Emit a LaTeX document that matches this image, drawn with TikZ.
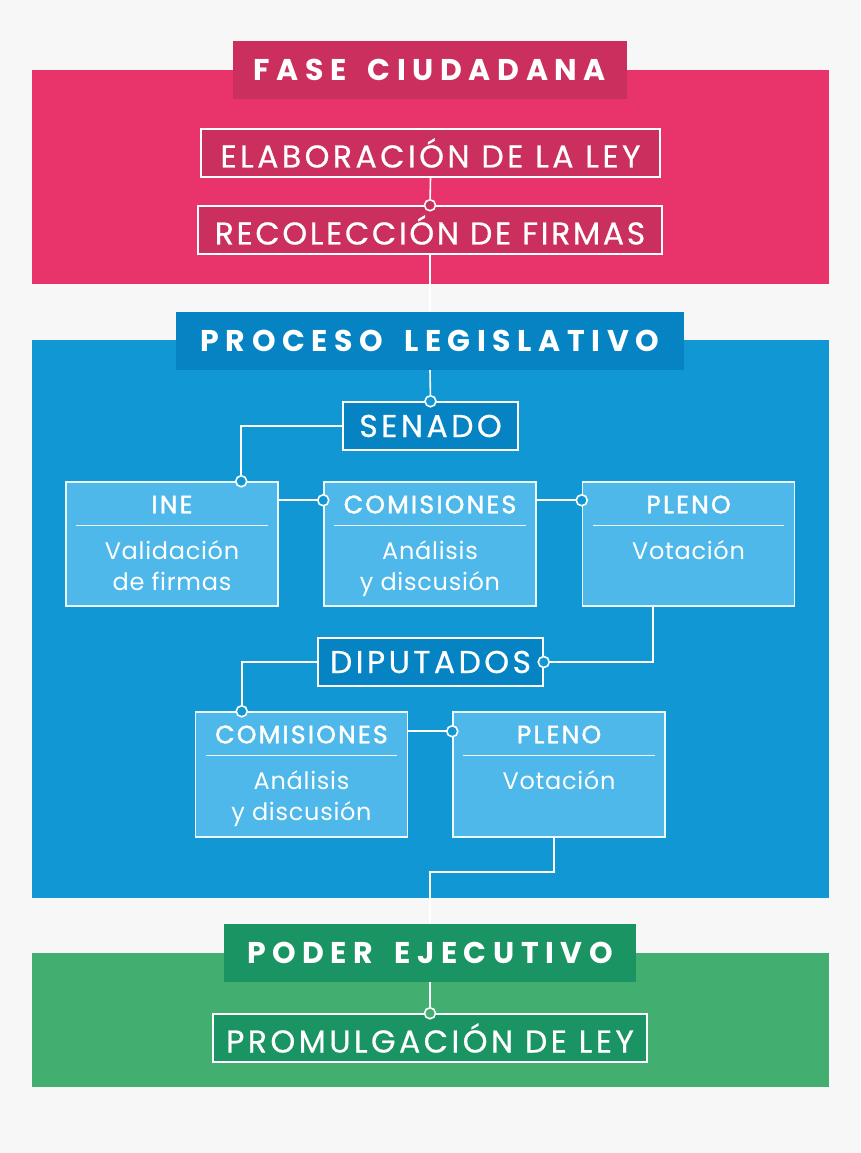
\documentclass[tikz,border=0pt]{standalone}
\usepackage{fontspec}
\setmainfont{Poppins}
\definecolor{bgc}{HTML}{F7F7F7}
\definecolor{pinkband}{HTML}{E8336B}
\definecolor{pinkdark}{HTML}{CB2F5D}
\definecolor{blueband}{HTML}{1297D5}
\definecolor{bluedark}{HTML}{0583C3}
\definecolor{bluelight}{HTML}{4FB8EA}
\definecolor{greenband}{HTML}{42AE6F}
\definecolor{greendark}{HTML}{1A9462}
\newcommand\headfont{\fontsize{30}{34}\selectfont\bfseries\addfontfeature{LetterSpace=22}}
\newcommand\wsp{\hspace{8pt}}
\newcommand\boxfont{\fontsize{31.5}{36}\selectfont\addfontfeature{LetterSpace=11,FakeBold=0.6}}
\newcommand\cardtitlefont{\fontsize{25}{30}\selectfont\addfontfeature{LetterSpace=9,FakeBold=1.8}}
\newcommand\cardbodyfont{\fontsize{24}{31}\selectfont\addfontfeature{LetterSpace=3}}
\begin{document}
\begin{tikzpicture}[x=1pt,y=-1pt,
  header/.style={inner sep=0pt, minimum height=58pt, text=white, font=\headfont},
  stagebox/.style={draw=white, line width=1.5pt, inner sep=0pt, minimum height=48pt, text=white, font=\boxfont},
  card/.style={draw=white!90!bluelight, line width=1.5pt, fill=bluelight, inner sep=0pt, minimum width=212pt, minimum height=124pt},
  cardtitle/.style={text=white, font=\cardtitlefont, inner sep=0pt, anchor=base},
  cardbody/.style={text=white, font=\cardbodyfont, inner sep=0pt, anchor=base},
  sepline/.style={draw=white!90!bluelight, line width=1pt},
  conn/.style={draw=white, line width=1.6pt},
  dot/.style={circle, draw=white, line width=1.6pt, minimum size=11pt, inner sep=0pt}]
\useasboundingbox (0,0) rectangle (860,1153);
\fill[bgc] (0,0) rectangle (860,1153);
\fill[pinkband] (32,70) rectangle (829,284);
\fill[blueband] (32,340) rectangle (829,898);
\fill[greenband] (32,953) rectangle (829,1087);
% headers
\node[header, fill=pinkdark, minimum width=394pt] (fase) at (430,70) {FASE \wsp CIUDADANA};
\node[header, fill=bluedark, minimum width=508pt] (proceso) at (430,341) {PROCESO \wsp LEGISLATIVO};
\node[header, fill=greendark, minimum width=412pt] (poder) at (430,953) {PODER \wsp EJECUTIVO};
% fase ciudadana
\node[stagebox, fill=pinkdark, minimum width=459pt] (elab) at (430.5,153) {ELABORACIÓN DE LA LEY};
\node[stagebox, fill=pinkdark, minimum width=464pt] (recol) at (430,230) {\addfontfeature{LetterSpace=8.5}RECOLECCIÓN DE FIRMAS};
% proceso
\node[stagebox, fill=bluedark, minimum width=175pt] (senado) at (430.5,426) {SENADO};
\node[card] (ine) at (172,544) {};
\node[card] (com1) at (430,544) {};
\node[card] (pleno1) at (688.5,544) {};
\node[stagebox, fill=bluedark, minimum width=225pt] (dip) at (430.5,662) {DIPUTADOS};
\node[card, minimum height=125pt] (com2) at (301.5,774.5) {};
\node[card, minimum height=125pt] (pleno2) at (559,774.5) {};
% poder
\node[stagebox, fill=greendark, minimum width=434pt] (prom) at (430,1038) {PROMULGACIÓN DE LEY};
% card contents
\foreach \c/\t/\la/\lb in {ine/INE/Validación/de firmas, com1/COMISIONES/Análisis/y discusión, pleno1/PLENO/Votación/{}, com2/COMISIONES/Análisis/y discusión, pleno2/PLENO/Votación/{}}{
  \node[cardtitle] (\c-t) at ([yshift=-32pt]\c.north) {\t};
  \draw[sepline] ([xshift=11pt,yshift=-44pt]\c.north west) -- ([xshift=-11pt,yshift=-44pt]\c.north east);
  \node[cardbody] (\c-a) at ([yshift=-78pt]\c.north) {\la};
  \node[cardbody] (\c-b) at ([yshift=-109pt]\c.north) {\lb};
}
% connectors
\draw[conn] (elab.south) -- (recol.north);
\node[dot, fill=pinkdark] (d1) at (recol.north) {};
\draw[conn] (recol.south) -- (proceso.north);
\draw[conn] (proceso.south) -- (senado.north);
\node[dot, fill=blueband] (d2) at (senado.north) {};
\coordinate (inetop) at ([xshift=176pt]ine.north west);
\draw[conn] (senado.west) -| (inetop);
\node[dot, fill=blueband] (d3) at (inetop) {};
\coordinate (c1l) at ([yshift=-19pt]com1.north west);
\draw[conn] ([yshift=-19pt]ine.north east) -- (c1l);
\node[dot, fill=blueband] (d4) at (c1l) {};
\coordinate (p1l) at ([yshift=-19pt]pleno1.north west);
\draw[conn] ([yshift=-19pt]com1.north east) -- (p1l);
\node[dot, fill=blueband] (d5) at (p1l) {};
\draw[conn] ([xshift=71pt]pleno1.south west) |- (dip.east);
\node[dot, fill=blueband] (d6) at (dip.east) {};
\coordinate (c2top) at ([xshift=47pt]com2.north west);
\draw[conn] (dip.west) -| (c2top);
\node[dot, fill=blueband] (d7) at (c2top) {};
\coordinate (p2l) at ([yshift=-20pt]pleno2.north west);
\draw[conn] ([yshift=-20pt]com2.north east) -- (p2l);
\node[dot, fill=blueband] (d8) at (p2l) {};
\draw[conn] ([xshift=102pt]pleno2.south west) -- ++(0,34) -| (poder.north);
\draw[conn] (poder.south) -- (prom.north);
\node[dot, fill=greenband] (d9) at (prom.north) {};
\end{tikzpicture}
\end{document}
